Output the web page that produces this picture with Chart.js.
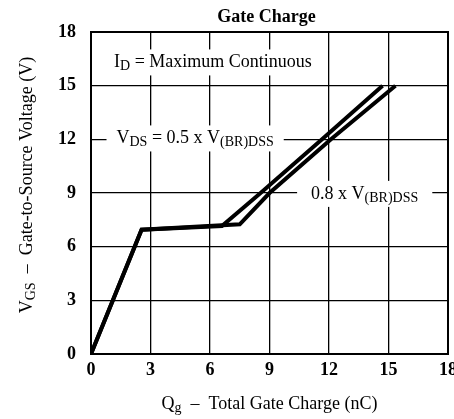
<!DOCTYPE html>
<html><head><meta charset="utf-8">
<script src="https://cdn.jsdelivr.net/npm/chart.js@4.4.1/dist/chart.umd.min.js"></script>
<style>html,body{margin:0;padding:0;background:#fff}#wrap{width:454px;height:419px}</style>
</head><body><div id="wrap"><canvas id="c" width="454" height="419"></canvas></div>
<script>
// ---- data ----
const xTicks = [0, 3, 6, 9, 12, 15, 18];
const yTicks = [0, 3, 6, 9, 12, 15, 18];
const qgHalf  = [0, 2.55, 6.6, 8.55, 11.65, 14.7];
const vgsHalf = [0, 6.95, 7.15, 9, 12, 15];
const qgEight  = [0, 2.55, 7.5, 9.0, 12.1, 15.35];
const vgsEight = [0, 6.95, 7.25, 9, 12, 15];
const titleText = 'Gate Charge';
const xTitleParts = [{t:'Q'},{t:'g',sub:true},{t:'  \u2013  Total Gate Charge (nC)'}];
const yTitleParts = [{t:'V'},{t:'GS',sub:true},{t:'  \u2013  Gate-to-Source Voltage (V)'}];
const notes = [
  {parts:[{t:'I'},{t:'D',sub:true},{t:' = Maximum Continuous'}], x:6.15, y:16.3, pad:6},
  {parts:[{t:'V'},{t:'DS',sub:true},{t:' = 0.5 x V'},{t:'(BR)DSS',sub:true}], x:5.25, y:12.05, pad:10},
  {parts:[{t:'0.8 x V'},{t:'(BR)DSS',sub:true}], x:13.8, y:8.95, pad:14}
];

const FAM = '"Liberation Serif", "Times New Roman", serif';
const SIZE = 18;
function fnt(p){ return (p.sub ? Math.round(SIZE*0.8) : SIZE) + 'px ' + FAM; }
function richWidth(ctx, parts){ let w=0; for(const p of parts){ ctx.font=fnt(p); w+=ctx.measureText(p.t).width; } return w; }
function drawRich(ctx, parts, cx, cy){
  const w = richWidth(ctx, parts);
  let x = cx - w/2;
  ctx.textBaseline = 'middle'; ctx.textAlign = 'left'; ctx.fillStyle = '#000';
  for(const p of parts){ ctx.font=fnt(p); ctx.fillText(p.t, x, p.sub ? cy+4 : cy); x += ctx.measureText(p.t).width; }
  return w;
}

const deco = {
  id:'deco',
  beforeDatasetsDraw(chart){
    const ctx=chart.ctx, xs=chart.scales.x, ys=chart.scales.y;
    ctx.save();
    for(const n of notes){
      const cx=xs.getPixelForValue(n.x), cy=ys.getPixelForValue(n.y);
      const w=richWidth(ctx,n.parts);
      ctx.fillStyle='#fff';
      ctx.fillRect(cx-w/2-n.pad, cy-13, w+2*n.pad, 26);
      drawRich(ctx,n.parts,cx,cy);
    }
    ctx.restore();
  },
  afterDraw(chart){
    const ctx=chart.ctx, a=chart.chartArea;
    ctx.save();
    ctx.strokeStyle='#000'; ctx.lineWidth=2;
    ctx.strokeRect(a.left, a.top, a.right-a.left, a.bottom-a.top);
    // title
    ctx.fillStyle='#000'; ctx.textAlign='center'; ctx.textBaseline='middle';
    ctx.font='bold 18px '+FAM;
    ctx.fillText(titleText, (a.left+a.right)/2 - 3, 17);
    // x title
    drawRich(ctx, xTitleParts, (a.left+a.right)/2, 404);
    // y title
    ctx.translate(27, (a.top+a.bottom)/2 - 8);
    ctx.rotate(-Math.PI/2);
    drawRich(ctx, yTitleParts, 0, 0);
    ctx.restore();
  }
};

new Chart(document.getElementById('c'), {
  type:'line',
  data:{ datasets:[
    {label:'0.5', data:qgHalf.map((q,i)=>({x:q,y:vgsHalf[i]})), borderColor:'#000', borderWidth:4, pointRadius:0, tension:0, fill:false},
    {label:'0.8', data:qgEight.map((q,i)=>({x:q,y:vgsEight[i]})), borderColor:'#000', borderWidth:4, pointRadius:0, tension:0, fill:false}
  ]},
  options:{
    responsive:false, animation:false, devicePixelRatio:1,
    layout:{padding:{top:32, right:6, left:0, bottom:0}},
    plugins:{legend:{display:false}, title:{display:false}, tooltip:{enabled:false}},
    scales:{
      x:{type:'linear', min:0, max:18,
         afterBuildTicks(s){ s.ticks = xTicks.map(v=>({value:v})); },
         afterFit(s){ s.height=65; s.paddingLeft=0; s.paddingRight=0; },
         grid:{color:'#000', lineWidth:1.3, drawTicks:false},
         border:{display:false},
         ticks:{color:'#000', padding:6, maxRotation:0, autoSkip:false, font:{family:FAM, size:18, weight:'bold'}}},
      y:{type:'linear', min:0, max:18,
         afterBuildTicks(s){ s.ticks = yTicks.map(v=>({value:v})); },
         afterFit(s){ s.width=91; s.paddingTop=0; s.paddingBottom=0; },
         grid:{color:'#000', lineWidth:1.3, drawTicks:false},
         border:{display:false},
         ticks:{color:'#000', padding:15, autoSkip:false, font:{family:FAM, size:18, weight:'bold'}}}
    }
  },
  plugins:[deco]
});
</script></body></html>
